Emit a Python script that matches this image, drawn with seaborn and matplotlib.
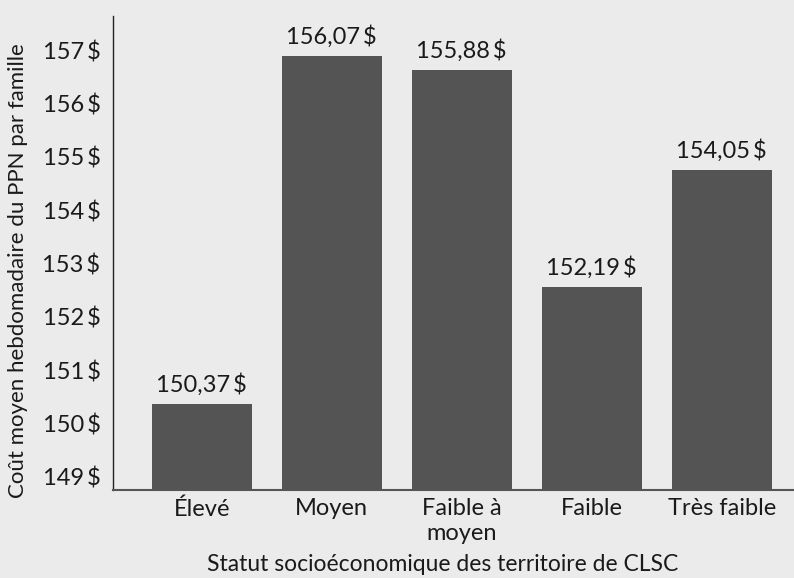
import matplotlib
matplotlib.use('Agg')
import matplotlib.pyplot as plt
import seaborn as sns

# categories on the x axis
categories = ['Élevé', 'Moyen', 'Faible à\nmoyen', 'Faible', 'Très faible']
# bar heights as they sit against the y axis of the picture
bar_heights = [150.37, 156.89, 156.63, 152.56, 154.76]
# printed labels above the bars
bar_labels = ['150,37\u2009$', '156,07\u2009$', '155,88\u2009$', '152,19\u2009$', '154,05\u2009$']
y_ticks = [149, 150, 151, 152, 153, 154, 155, 156, 157]
y_tick_labels = ['149\u2009$', '150\u2009$', '151\u2009$', '152\u2009$', '153\u2009$',
                 '154\u2009$', '155\u2009$', '156\u2009$', '157\u2009$']

bg = '#ebebeb'
bar_color = '#545454'

sns.set_style('white')
plt.rcParams['font.family'] = ['Lato', 'DejaVu Sans']
plt.rcParams['figure.facecolor'] = bg
plt.rcParams['axes.facecolor'] = bg

fig = plt.figure(figsize=(7.94, 5.78), dpi=100)
ax = fig.add_axes([0.1423, 0.1522, 0.8577, 0.8201])

sns.barplot(x=categories, y=bar_heights, color=bar_color, saturation=1,
            width=0.77, linewidth=0, ax=ax)

ax.set_xlim(-0.682, 4.556)
ax.set_ylim(148.75, 157.64)

for i, (h, lab) in enumerate(zip(bar_heights, bar_labels)):
    ax.annotate(lab, (i, h), xytext=(0, 8.5), textcoords='offset points',
                ha='center', va='baseline', fontsize=17, color='#1a1a1a')

ax.set_yticks(y_ticks)
ax.set_yticklabels(y_tick_labels)
ax.yaxis.get_major_ticks()[0].tick1line.set_visible(False)
ax.tick_params(axis='y', direction='in', length=17, width=1.2, color='#444444',
               pad=9, labelsize=17, labelcolor='#1a1a1a')
ax.tick_params(axis='x', length=0, pad=6, labelsize=17, labelcolor='#1a1a1a')

sns.despine(ax=ax)
ax.spines['left'].set_color('#222222')
ax.spines['left'].set_linewidth(1.0)
ax.spines['bottom'].set_color('#555555')
ax.spines['bottom'].set_linewidth(1.5)

ax.set_ylabel('Coût moyen hebdomadaire du PPN par famille', fontsize=16,
              color='#1a1a1a')
ax.yaxis.set_label_coords(-0.125, 0.462)
ax.set_xlabel('Statut socioéconomique des territoire de CLSC', fontsize=16.5,
              color='#1a1a1a')
ax.xaxis.set_label_coords(0.4846, -0.135)

fig.savefig('out.png', dpi=100, facecolor=bg)
